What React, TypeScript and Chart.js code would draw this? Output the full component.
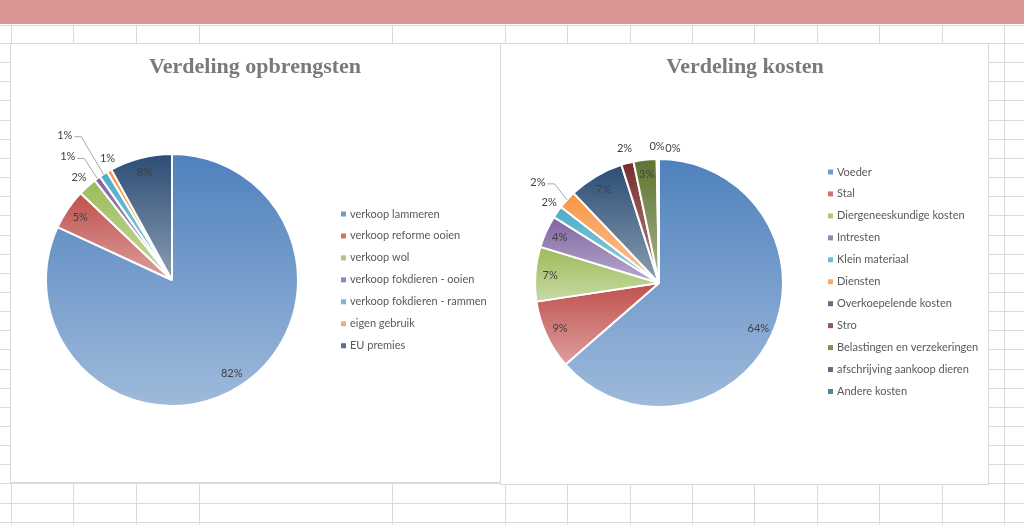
import React, { useEffect, useRef } from "react";
import { Chart, registerables } from "chart.js";

Chart.register(...registerables);

// ---------- data ----------
const revenueTitle = "Verdeling opbrengsten";
const revenueLabels = [
  "verkoop lammeren",
  "verkoop reforme ooien",
  "verkoop wol",
  "verkoop fokdieren - ooien",
  "verkoop fokdieren - rammen",
  "eigen gebruik",
  "EU premies",
];
const revenueValues = [81.9, 5.2, 2.4, 0.8, 1.1, 0.6, 8.0];

const costTitle = "Verdeling kosten";
const costLabels = [
  "Voeder",
  "Stal",
  "Diergeneeskundige kosten",
  "Intresten",
  "Klein materiaal",
  "Diensten",
  "Overkoepelende kosten",
  "Stro",
  "Belastingen en verzekeringen",
  "afschrijving aankoop dieren",
  "Andere kosten",
];
const costValues = [63.6, 9.0, 7.1, 4.2, 1.6, 2.4, 7.2, 1.6, 3.0, 0.2, 0.1];

// ---------- styling ----------
const palette = [
  "#4F81BD", "#C0504D", "#9BBB59", "#8064A2", "#4BACC6", "#F79646",
  "#2C4D75", "#772C2A", "#5F7530", "#4D3B62", "#276A7C",
];

// label placement: null = inside; [radiusFactor, angleShiftDeg, leaderLine]
const revenuePlacement: any[] = [null, null, [1.1, 0, false], [1.28, -3.9, true], [1.43, -3.6, true], [1.09, 1.9, false], null];
const costPlacement: any[] = [null, null, null, null, [1.1, 1.4, false], [1.27, -2.4, true], null, [1.12, 0.4, false], null, [1.1, -0.1, false], [1.09, 6.1, false]];

const INSIDE = 0.88;
const SMALL_FONT = "11px Lato";
const TITLE_FONT = "bold 22px 'Liberation Serif'";

function mix(hex: string, t: number) {
  const n = parseInt(hex.slice(1), 16);
  const r = (n >> 16) & 255, g = (n >> 8) & 255, b = n & 255;
  const m = (c: number) => Math.round(c + (255 - c) * t);
  return `rgb(${m(r)},${m(g)},${m(b)})`;
}

function sliceFill(c: any, radius: number) {
  const i = c.dataIndex;
  const base = palette[i % palette.length];
  const chart = c.chart;
  const area = chart.chartArea;
  if (!area || c.type !== "data") return base;
  const vals = chart.data.datasets[0].data as number[];
  const total = vals.reduce((a, b) => a + b, 0);
  let cum = 0;
  for (let k = 0; k < i; k++) cum += vals[k];
  const a1 = -Math.PI / 2 + (2 * Math.PI * cum) / total;
  const a2 = a1 + (2 * Math.PI * vals[i]) / total;
  const cy = (area.top + area.bottom) / 2;
  const ys = [cy, cy + radius * Math.sin(a1), cy + radius * Math.sin(a2)];
  for (const ang of [-Math.PI / 2, Math.PI / 2, (3 * Math.PI) / 2]) {
    if (ang >= a1 && ang <= a2) ys.push(cy + radius * Math.sin(ang));
  }
  const y0 = Math.min(...ys);
  let y1 = Math.max(...ys);
  if (y1 - y0 < 1) y1 = y0 + 1;
  const g = chart.ctx.createLinearGradient(0, y0, 0, y1);
  g.addColorStop(0, base);
  g.addColorStop(1, mix(base, 0.45));
  return g;
}

function decorPlugin(cfg: any) {
  return {
    id: "excelDecor",
    afterDatasetsDraw(chart: any) {
      const ctx = chart.ctx;
      const meta = chart.getDatasetMeta(0);
      const values = chart.data.datasets[0].data as number[];
      const labels = chart.data.labels as string[];
      const total = values.reduce((a, b) => a + b, 0);
      ctx.save();
      // data labels
      meta.data.forEach((arc: any, i: number) => {
        const p = arc.getProps(["x", "y", "startAngle", "endAngle", "outerRadius"], true);
        const mid = (p.startAngle + p.endAngle) / 2;
        const pl = cfg.placement[i];
        const f = pl ? pl[0] : INSIDE;
        const a = mid + (pl ? (pl[1] * Math.PI) / 180 : 0);
        const lx = p.x + Math.cos(a) * p.outerRadius * f;
        const ly = p.y + Math.sin(a) * p.outerRadius * f;
        const text = Math.round((values[i] / total) * 100) + "%";
        ctx.font = SMALL_FONT;
        ctx.fillStyle = "#404040";
        ctx.textAlign = "center";
        ctx.textBaseline = "middle";
        ctx.fillText(text, lx, ly);
        if (pl && pl[2]) {
          const w = ctx.measureText(text).width;
          const sx = lx + w / 2 + 2;
          const ex = p.x + Math.cos(mid) * p.outerRadius;
          const ey = p.y + Math.sin(mid) * p.outerRadius;
          ctx.strokeStyle = "#a6a6a6";
          ctx.lineWidth = 1;
          ctx.beginPath();
          ctx.moveTo(sx, ly + 1.5);
          ctx.lineTo(sx + 7, ly + 1.5);
          ctx.lineTo(ex, ey);
          ctx.stroke();
        }
      });
      // title
      ctx.font = TITLE_FONT;
      ctx.fillStyle = "#7a7a7a";
      ctx.textAlign = "center";
      ctx.textBaseline = "alphabetic";
      ctx.fillText(cfg.title, cfg.titleX, cfg.titleY);
      // legend
      labels.forEach((lab, i) => {
        const y = cfg.legendY + i * 21.95;
        ctx.fillStyle = mix(palette[i % palette.length], 0.2);
        ctx.fillRect(cfg.legendX, y - 2.5, 5, 5);
        ctx.font = SMALL_FONT;
        ctx.fillStyle = "#595959";
        ctx.textAlign = "left";
        ctx.textBaseline = "middle";
        ctx.fillText(lab, cfg.legendX + 9, y);
      });
      ctx.restore();
    },
  };
}

function PieBox(props: any) {
  const ref = useRef<HTMLCanvasElement>(null);
  useEffect(() => {
    if (!ref.current) return;
    const chart = new Chart(ref.current, {
      type: "pie",
      data: {
        labels: props.labels,
        datasets: [
          {
            data: props.values,
            backgroundColor: (c: any) => sliceFill(c, props.radius),
            borderColor: "#ffffff",
            borderWidth: 2,
            radius: props.radius,
          } as any,
        ],
      },
      options: {
        responsive: false,
        animation: false,
        events: [],
        layout: { padding: props.pad },
        plugins: {
          legend: { display: false },
          title: { display: false },
          tooltip: { enabled: false },
        },
      },
      plugins: [decorPlugin(props)],
    });
    return () => chart.destroy();
  }, []);
  return (
    <div
      style={{
        position: "absolute",
        left: props.left,
        top: props.top,
        width: props.width,
        height: props.height,
        background: "#fff",
        border: "1px solid #d9d9d9",
        boxSizing: "border-box",
      }}
    >
      <canvas
        ref={ref}
        width={props.width - 2}
        height={props.height - 2}
        style={{ display: "block", width: props.width - 2, height: props.height - 2 }}
      />
    </div>
  );
}

const leftCols = [11, 73, 136, 199, 392, 505];
const rightCols = [567, 630, 692, 754, 817, 879, 942, 1004];

function SheetGrid() {
  const rows: number[] = [25];
  for (let y = 43; y < 525; y += 19.15) rows.push(Math.round(y));
  return (
    <>
      <div style={{ position: "absolute", left: 0, top: 0, width: 1024, height: 24, background: "#da9595" }} />
      {rows.map((y, i) => (
        <div key={"r" + i} style={{ position: "absolute", left: 0, top: y, width: 1024, height: 1, background: "#dadada" }} />
      ))}
      {[...leftCols, ...rightCols].map((x, i) => (
        <div key={"c" + i} style={{ position: "absolute", left: x, top: 25, width: 1, height: 500, background: "#dadada" }} />
      ))}
    </>
  );
}

export default function App() {
  return (
    <div style={{ position: "fixed", left: 0, top: 0, width: 1024, height: 525, background: "#fff", overflow: "hidden" }}>
      <SheetGrid />
      <PieBox
        left={10}
        top={43}
        width={491}
        height={440}
        labels={revenueLabels}
        values={revenueValues}
        title={revenueTitle}
        placement={revenuePlacement}
        radius={126}
        pad={{ left: 0, right: 167, top: 34, bottom: 0 }}
        titleX={244}
        titleY={29}
        legendX={330}
        legendY={170}
      />
      <PieBox
        left={500}
        top={43}
        width={489}
        height={442}
        labels={costLabels}
        values={costValues}
        title={costTitle}
        placement={costPlacement}
        radius={124}
        pad={{ left: 0, right: 171, top: 38, bottom: 0 }}
        titleX={244}
        titleY={29}
        legendX={327}
        legendY={128}
      />
    </div>
  );
}
